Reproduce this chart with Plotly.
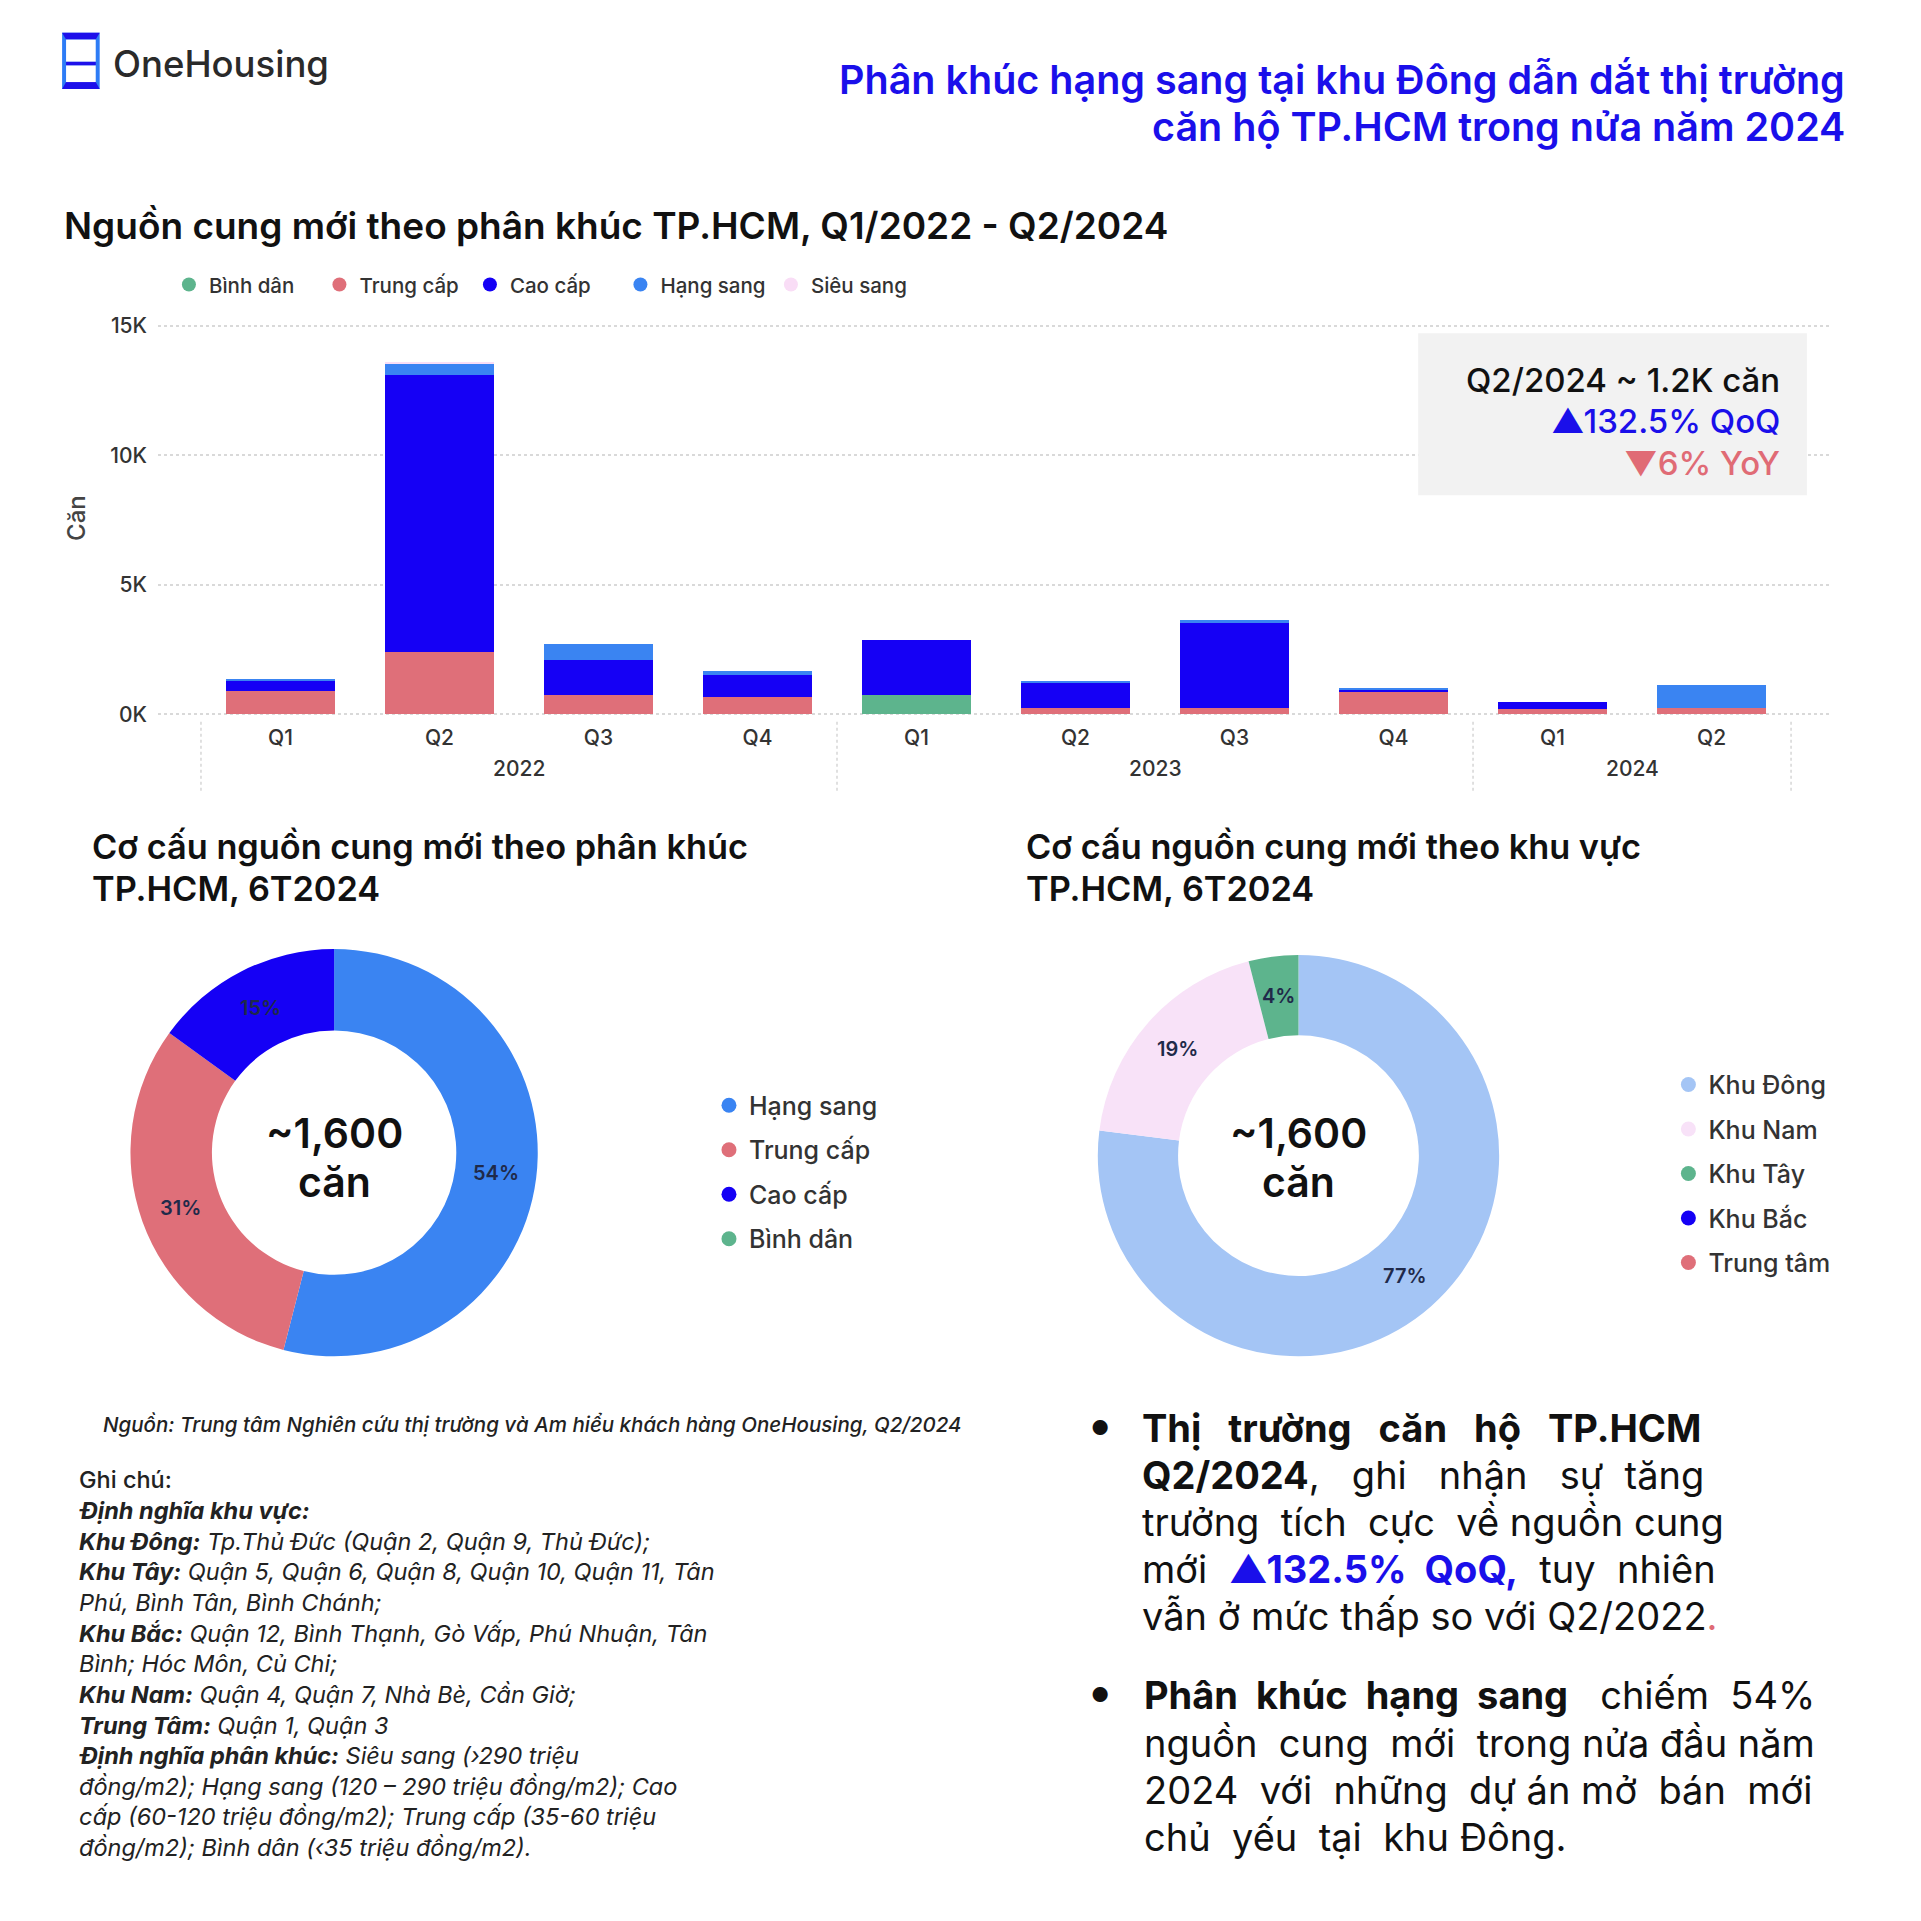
import math
import plotly.graph_objects as go

W = H = 1921
FONT = "Inter"

# ---------------- data ----------------
years = ["2022", "2022", "2022", "2022", "2023", "2023", "2023", "2023", "2024", "2024"]
quarters = ["Q1", "Q2", "Q3", "Q4", "Q1", "Q2", "Q3", "Q4", "Q1", "Q2"]

segments = ["Bình dân", "Trung cấp", "Cao cấp", "Hạng sang", "Siêu sang"]
segment_colors = ["#5DB48D", "#DF6F79", "#1500F5", "#3A84F2", "#F9DDF6"]
binh_dan = [0, 0, 0, 0, 760, 0, 0, 0, 0, 0]
trung_cap = [900, 2400, 760, 660, 0, 230, 230, 880, 220, 250]
cao_cap = [380, 10700, 1340, 880, 2100, 1000, 3300, 80, 270, 0]
hang_sang = [40, 430, 630, 120, 0, 30, 100, 30, 0, 900]
sieu_sang = [0, 50, 0, 0, 0, 0, 0, 0, 0, 0]
series = [binh_dan, trung_cap, cao_cap, hang_sang, sieu_sang]

y_tickvals = [0, 5000, 10000, 15000]
y_ticktext = ["0K", "5K", "10K", "15K"]

seg_pie_labels = ["Hạng sang", "Trung cấp", "Cao cấp", "Bình dân"]
seg_pie_values = [54, 31, 15, 0]
seg_pie_colors = ["#3A84F2", "#DF6F79", "#1500F5", "#5DB48D"]

area_labels = ["Khu Đông", "Khu Nam", "Khu Tây", "Khu Bắc", "Trung tâm"]
area_values = [77, 19, 4, 0, 0]
area_colors = ["#A4C5F5", "#F8E2F8", "#5DB48D", "#1500F5", "#DF6F79"]

header_lines = ["Phân khúc hạng sang tại khu Đông dẫn dắt thị trường",
                "căn hộ TP.HCM trong nửa năm 2024"]
bar_title = "Nguồn cung mới theo phân khúc TP.HCM, Q1/2022 - Q2/2024"
pie1_title = ["Cơ cấu nguồn cung mới theo phân khúc", "TP.HCM, 6T2024"]
pie2_title = ["Cơ cấu nguồn cung mới theo khu vực", "TP.HCM, 6T2024"]
center_lines = ["~1,600", "căn"]
kpi_lines = [("Q2/2024 ~ 1.2K căn", "#111111"),
             ("▲132.5% QoQ", "#1A0FEA"),
             ("▼6% YoY", "#E06B75")]
source_text = "Nguồn: Trung tâm Nghiên cứu thị trường và Am hiểu khách hàng OneHousing, Q2/2024"

note_lines = [
    "Ghi chú:",
    "<b><i>Định nghĩa khu vực:</i></b>",
    "<b><i>Khu Đông:</i></b><i> Tp.Thủ Đức (Quận 2, Quận 9, Thủ Đức);</i>",
    "<b><i>Khu Tây:</i></b><i> Quận 5, Quận 6, Quận 8, Quận 10, Quận 11, Tân</i>",
    "<i>Phú, Bình Tân, Bình Chánh;</i>",
    "<b><i>Khu Bắc:</i></b><i> Quận 12, Bình Thạnh, Gò Vấp, Phú Nhuận, Tân</i>",
    "<i>Bình; Hóc Môn, Củ Chi;</i>",
    "<b><i>Khu Nam:</i></b><i> Quận 4, Quận 7, Nhà Bè, Cần Giờ;</i>",
    "<b><i>Trung Tâm:</i></b><i> Quận 1, Quận 3</i>",
    "<b><i>Định nghĩa phân khúc:</i></b><i> Siêu sang (›290 triệu</i>",
    "<i>đồng/m2); Hạng sang (120 – 290 triệu đồng/m2); Cao</i>",
    "<i>cấp (60-120 triệu đồng/m2); Trung cấp (35-60 triệu</i>",
    "<i>đồng/m2); Bình dân (‹35 triệu đồng/m2).</i>",
]

bullet1_lines = [
    "<b>Thị   trường   căn   hộ   TP.HCM</b>",
    "<b>Q2/2024</b>,   ghi   nhận   sự  tăng",
    "trưởng  tích  cực  về nguồn cung",
    "mới  <b><span style='color:#1A0FEA'>▲132.5%  QoQ,</span></b>  tuy  nhiên",
    "vẫn ở mức thấp so với Q2/2022<span style='color:#E06B75'>.</span>",
]
bullet2_lines = [
    "<b>Phân  khúc  hạng  sang</b>   chiếm  54%",
    "nguồn  cung  mới  trong nửa đầu năm",
    "2024  với  những  dự án mở  bán  mới",
    "chủ  yếu  tại  khu Đông.",
]


def px(x):
    return (0.9891 * x - 9.2) / W


def py(y):
    return 1 - (y - 19.2) / H


fig = go.Figure()

# ---------------- stacked bars ----------------
cat_keys = [q + " " + y for q, y in zip(quarters, years)]
for name, color, vals in zip(segments, segment_colors, series):
    fig.add_trace(go.Bar(x=cat_keys, y=vals, name=name,
                         marker=dict(color=color, line=dict(width=0)),
                         showlegend=False, xaxis="x", yaxis="y"))

# legend entries with round markers
for name, color in zip(segments, segment_colors):
    fig.add_trace(go.Scatter(x=[None], y=[None], mode="markers", name=name,
                             marker=dict(size=14, color=color, symbol="circle"),
                             xaxis="x2", yaxis="y2", legend="legend", hoverinfo="skip"))
for i, (name, color) in enumerate(zip(seg_pie_labels, seg_pie_colors)):
    fig.add_trace(go.Scatter(x=[None], y=[None], mode="markers", name=name,
                             marker=dict(size=15, color=color, symbol="circle"),
                             xaxis="x2", yaxis="y2", legend="legend2",
                             legendgroup="a%d" % i, hoverinfo="skip"))
for i, (name, color) in enumerate(zip(area_labels, area_colors)):
    fig.add_trace(go.Scatter(x=[None], y=[None], mode="markers", name=name,
                             marker=dict(size=15, color=color, symbol="circle"),
                             xaxis="x2", yaxis="y2", legend="legend3",
                             legendgroup="b%d" % i, hoverinfo="skip"))

# ---------------- donuts ----------------
HOLE = 0.6
pies = [
    (seg_pie_labels, seg_pie_values, seg_pie_colors, (339, 1166), 206),
    (area_labels, area_values, area_colors, (1314, 1169), 203),
]
ann = []
for labels, values, colors, (cx, cy), r in pies:
    fig.add_trace(go.Pie(labels=labels, values=values, hole=HOLE, sort=False,
                         direction="clockwise", rotation=0, textinfo="none",
                         marker=dict(colors=colors, line=dict(width=0)),
                         domain=dict(x=[px(cx - r), px(cx + r)], y=[py(cy + r), py(cy - r)]),
                         showlegend=False, hoverinfo="label+percent"))
    total = float(sum(values))
    cum = 0.0
    rm = r * (1 + HOLE) / 2
    for v in values:
        if v > 0:
            a = 2 * math.pi * (cum + v / 2) / total
            lx = cx + rm * math.sin(a)
            ly = cy - rm * math.cos(a)
            ann.append(dict(text="%d%%" % round(100 * v / total), x=px(lx), y=py(ly),
                            xanchor="center", yanchor="middle",
                            font=dict(family=FONT, size=20, color="#1F2A4A", weight=600)))
        cum += v

# ---------------- shapes ----------------
shapes = []


def poly(pts, color):
    path = "M " + " L ".join("%f,%f" % (px(a), py(b)) for a, b in pts) + " Z"
    return dict(type="path", xref="paper", yref="paper", path=path,
                fillcolor=color, line=dict(width=0))


# logo
shapes.append(poly([(64, 33), (102, 33), (102, 90), (64, 90)], "#2D7CF6"))
shapes.append(poly([(64, 33), (102, 33), (98, 40), (68, 40)], "#1E10EA"))
shapes.append(poly([(68, 83), (98, 83), (102, 90), (64, 90)], "#1E10EA"))
shapes.append(poly([(68, 40), (98, 40), (98, 62.5), (68, 62.5)], "white"))
shapes.append(poly([(68, 66), (98, 66), (98, 83), (68, 83)], "white"))
shapes.append(poly([(68, 62.5), (98, 62.5), (98, 66), (68, 66)], "#1E10EA"))
# KPI box
shapes.append(dict(type="rect", xref="paper", yref="paper", x0=px(1435), x1=px(1828),
                   y0=py(501), y1=py(337), fillcolor="#F2F2F2", line=dict(width=0), layer="above"))
# year groups: dotted dividers at group boundaries, year label at group centre
groups = []
start = 0
for i in range(1, len(years) + 1):
    if i == len(years) or years[i] != years[start]:
        groups.append((years[start], start, i - 1))
        start = i
for b in [-0.5] + [g[2] + 0.5 for g in groups]:
    shapes.append(dict(type="line", xref="x", yref="paper", x0=b, x1=b,
                       y0=py(730), y1=py(800), line=dict(color="#D6D6D6", width=1.5, dash="dot")))
for name, i0, i1 in groups:
    ann.append(dict(text=name, x=(i0 + i1) / 2.0, y=py(777), xref="x", yref="paper",
                    xanchor="center", yanchor="middle",
                    font=dict(family=FONT, size=21, color="#333333", weight=500)))

# ---------------- annotations ----------------
ann.append(dict(text="OneHousing", x=px(113), y=py(65), xanchor="left", yanchor="middle",
                font=dict(family=FONT, size=36.5, color="#2A2A2A", weight=500)))
for i, t in enumerate(header_lines):
    ann.append(dict(text=t, x=px(1869), y=py(80.5 + 47.5 * i), xanchor="right",
                    yanchor="middle", font=dict(family=FONT, size=39.5, color="#1A0FEA", weight=600)))
ann.append(dict(text=bar_title, x=px(64), y=py(228), xanchor="left", yanchor="middle",
                font=dict(family=FONT, size=37, color="#111111", weight=600)))
ann.append(dict(text="Căn", x=px(78), y=py(524), xanchor="center", yanchor="middle",
                textangle=-90, font=dict(family=FONT, size=24, color="#444444", weight=500)))
for i, (t, c) in enumerate(kpi_lines):
    ann.append(dict(text=t, x=px(1803), y=py(384 + 42 * i), xanchor="right", yanchor="middle",
                    font=dict(family=FONT, size=33, color=c, weight=500)))
for tl, x0 in [(pie1_title, 92), (pie2_title, 1036)]:
    for i, t in enumerate(tl):
        ann.append(dict(text=t, x=px(x0), y=py(856.5 + 42.5 * i), xanchor="left", yanchor="middle",
                        font=dict(family=FONT, size=34.3, color="#111111", weight=600)))
for cx in [339, 1314]:
    for i, t in enumerate(center_lines):
        ann.append(dict(text=t, x=px(cx), y=py(1146.5 + 49.5 * i), xanchor="center", yanchor="middle",
                        font=dict(family=FONT, size=41, color="#111111", weight=600)))
ann.append(dict(text="<i>" + source_text + "</i>", x=px(103), y=py(1441), xanchor="left",
                yanchor="middle", font=dict(family=FONT, size=20.5, color="#222222", weight=500)))
for i, t in enumerate(note_lines):
    ann.append(dict(text=t, x=px(79), y=py(1497 + 31 * i), xanchor="left", yanchor="middle",
                    font=dict(family=FONT, size=23.5, color="#222222", weight=500 if i == 0 else 400)))
# bullets
for (ys, xt, lines) in [((1445, 47.5), 1154, bullet1_lines), ((1715, 47.7), 1156, bullet2_lines)]:
    y0, dy = ys
    ann.append(dict(text="●", x=px(1113), y=py(y0), xanchor="center", yanchor="middle",
                    font=dict(family=FONT, size=20, color="#111111")))
    for i, t in enumerate(lines):
        ann.append(dict(text=t, x=px(xt), y=py(y0 + dy * i), xanchor="left", yanchor="middle",
                        font=dict(family=FONT, size=38, color="#111111", weight=400)))
for a in ann:
    a.setdefault("xref", "paper")
    a.setdefault("yref", "paper")
    a["showarrow"] = False

legend_common = dict(bgcolor="rgba(0,0,0,0)", borderwidth=0, itemwidth=30,
                     itemclick=False, itemdoubleclick=False)

fig.update_layout(
    width=W, height=H, margin=dict(l=0, r=0, t=0, b=0),
    paper_bgcolor="white", plot_bgcolor="white",
    font=dict(family=FONT, color="#222222"),
    barmode="stack", bargap=0.32,
    xaxis=dict(domain=[px(161), px(1853)], type="category", range=[-0.77, 9.755],
               tickvals=cat_keys, ticktext=quarters,
               showgrid=False, ticks="", showline=False, zeroline=False,
               ticklabelstandoff=7,
               tickfont=dict(family=FONT, size=21, color="#333333", weight=500)),
    yaxis=dict(domain=[py(724), py(328)], range=[-50, 15050], tickvals=y_tickvals,
               ticktext=y_ticktext, showgrid=True, gridcolor="#D9D9D9", griddash="dot",
               gridwidth=1.5, zeroline=False, showline=False, ticks="",
               ticklabelstandoff=10,
               tickfont=dict(family=FONT, size=21, color="#333333", weight=500)),
    xaxis2=dict(domain=[0, 0.01], visible=False, anchor="y2"),
    yaxis2=dict(domain=[0, 0.01], visible=False, anchor="x2"),
    legend=dict(orientation="h", x=px(172), y=py(288), xanchor="left", yanchor="middle",
                traceorder="normal", entrywidth=105.5, entrywidthmode="pixels",
                font=dict(family=FONT, size=20.5, color="#333333", weight=500), **legend_common),
    legend2=dict(orientation="v", x=px(718), y=py(1095), xanchor="left", yanchor="top",
                 traceorder="grouped", tracegroupgap=9,
                 font=dict(family=FONT, size=25, color="#333333", weight=500), **legend_common),
    legend3=dict(orientation="v", x=px(1688), y=py(1074), xanchor="left", yanchor="top",
                 traceorder="grouped", tracegroupgap=9,
                 font=dict(family=FONT, size=25, color="#333333", weight=500), **legend_common),
    shapes=shapes, annotations=ann,
)

fig.write_html("out.html")
